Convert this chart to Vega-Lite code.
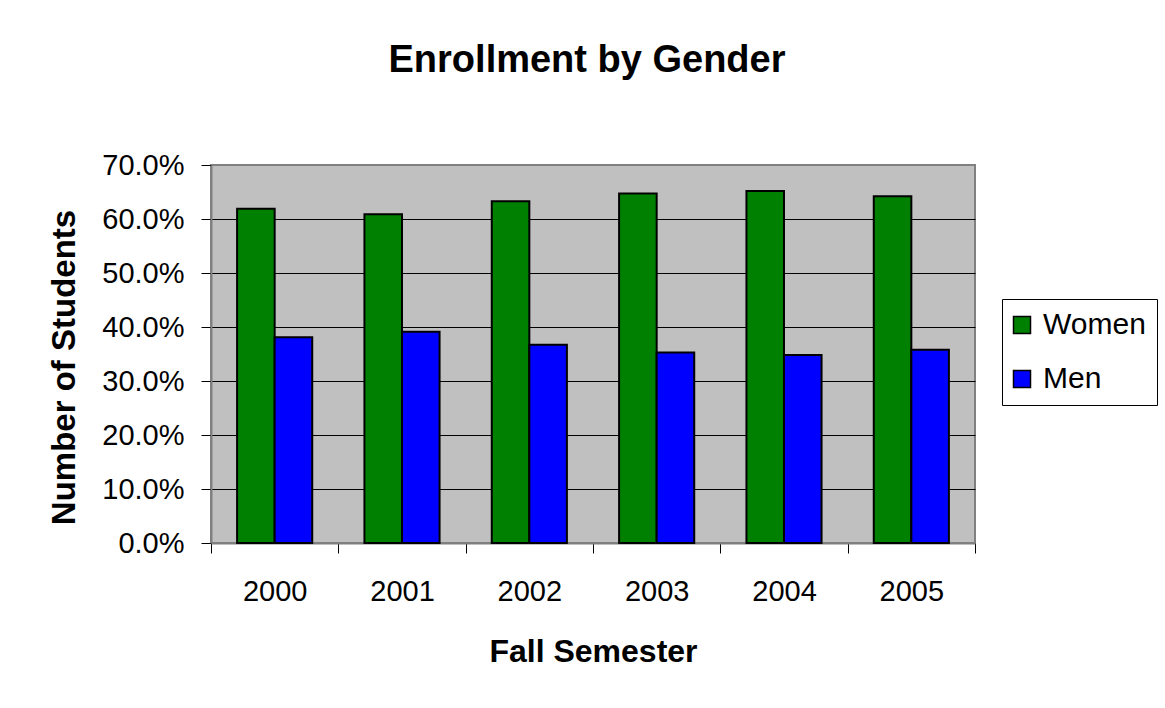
{
  "$schema": "https://vega.github.io/schema/vega-lite/v6.json",
  "autosize": {"type": "none"},
  "padding": {"left": 211, "top": 165, "right": 190, "bottom": 165},
  "width": 764,
  "height": 378,
  "background": "white",
  "title": {
    "text": "Enrollment by Gender",
    "font": "Liberation Sans",
    "fontSize": 38,
    "fontWeight": "bold",
    "color": "black",
    "anchor": "middle",
    "frame": "group",
    "offset": 71,
    "dx": -6
  },
  "data": {
    "values": [
      {"year": "2000", "gender": "Women", "share": 0.619},
      {"year": "2000", "gender": "Men", "share": 0.381},
      {"year": "2001", "gender": "Women", "share": 0.609},
      {"year": "2001", "gender": "Men", "share": 0.391},
      {"year": "2002", "gender": "Women", "share": 0.633},
      {"year": "2002", "gender": "Men", "share": 0.367},
      {"year": "2003", "gender": "Women", "share": 0.647},
      {"year": "2003", "gender": "Men", "share": 0.353},
      {"year": "2004", "gender": "Women", "share": 0.652},
      {"year": "2004", "gender": "Men", "share": 0.348},
      {"year": "2005", "gender": "Women", "share": 0.642},
      {"year": "2005", "gender": "Men", "share": 0.358}
    ]
  },
  "mark": {"type": "bar", "stroke": "black", "strokeWidth": 2},
  "encoding": {
    "x": {
      "field": "year",
      "type": "ordinal",
      "scale": {"paddingInner": 0, "paddingOuter": 0},
      "axis": {
        "title": "Fall Semester",
        "labelAngle": 0,
        "tickBand": "extent",
        "tickSize": 10,
        "tickColor": "black",
        "tickWidth": 1,
        "domainColor": "#808080",
        "domainWidth": 2,
        "grid": false,
        "labelFont": "Liberation Sans",
        "labelFontSize": 29,
        "labelColor": "black",
        "labelPadding": 24,
        "titleFont": "Liberation Sans",
        "titleFontSize": 32,
        "titleFontWeight": "bold",
        "titleColor": "black",
        "titlePadding": 30
      }
    },
    "xOffset": {
      "field": "gender",
      "sort": ["Women", "Men"],
      "scale": {"paddingInner": 0, "paddingOuter": 0.695}
    },
    "y": {
      "field": "share",
      "type": "quantitative",
      "scale": {"domain": [0, 0.7]},
      "axis": {
        "title": "Number of Students",
        "format": ".1%",
        "values": [0, 0.1, 0.2, 0.3, 0.4, 0.5, 0.6, 0.7],
        "tickSize": 10,
        "tickColor": "black",
        "tickWidth": 1,
        "domainColor": "#808080",
        "domainWidth": 2,
        "grid": true,
        "gridColor": {"condition": {"test": "datum.value >= 0.7 || datum.value <= 0", "value": "#808080"}, "value": "black"},
        "gridWidth": 1,
        "gridOpacity": 1,
        "labelFont": "Liberation Sans",
        "labelFontSize": 29,
        "labelColor": "black",
        "labelPadding": 17,
        "titleFont": "Liberation Sans",
        "titleFontSize": 33,
        "titleFontWeight": "bold",
        "titleColor": "black",
        "titlePadding": 20,
        "titleY": 202
      }
    },
    "color": {
      "field": "gender",
      "type": "nominal",
      "sort": ["Women", "Men"],
      "scale": {"domain": ["Women", "Men"], "range": ["#008000", "#0000FF"]},
      "legend": {
        "title": null,
        "orient": "none",
        "legendX": 791,
        "legendY": 134,
        "strokeColor": "black",
        "fillColor": "white",
        "padding": 11,
        "symbolType": "square",
        "symbolSize": 289,
        "symbolOffset": -6,
        "symbolStrokeColor": "black",
        "symbolStrokeWidth": 1.5,
        "symbolOpacity": 1,
        "labelFont": "Liberation Sans",
        "labelFontSize": 30,
        "labelColor": "black",
        "labelOffset": 6,
        "rowPadding": 24
      }
    }
  },
  "config": {
    "view": {"fill": "#C0C0C0", "stroke": "#808080", "strokeWidth": 2}
  }
}
